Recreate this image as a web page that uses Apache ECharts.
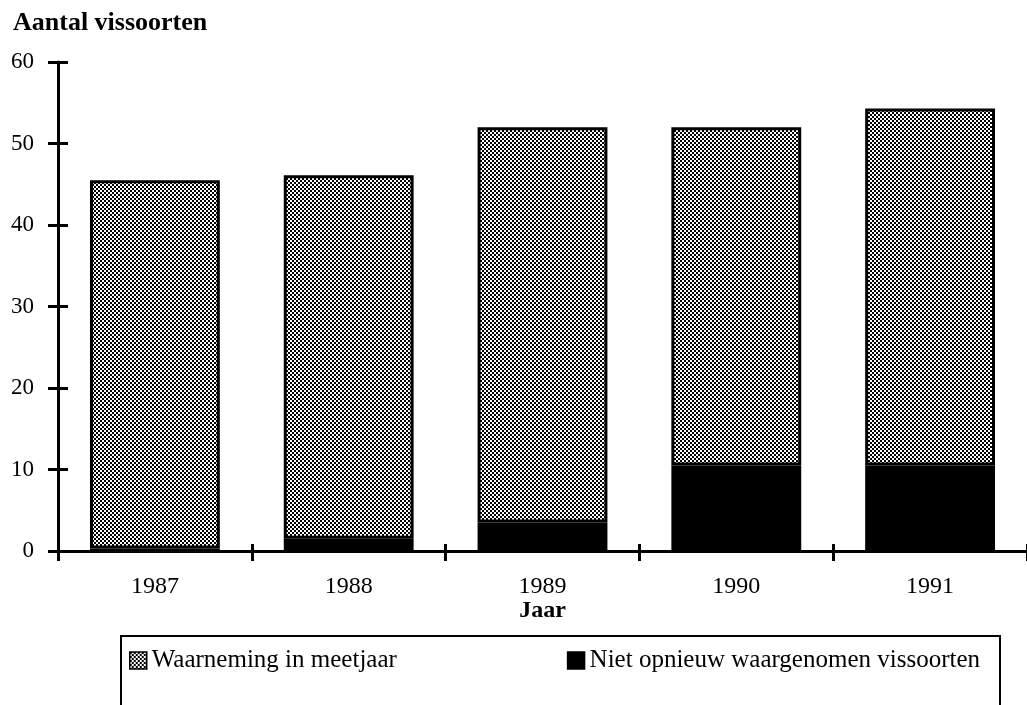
<!DOCTYPE html>
<html>
<head>
<meta charset="utf-8">
<script src="https://cdn.jsdelivr.net/npm/echarts@6/dist/echarts.min.js"></script>
<style>
    html, body { margin: 0; padding: 0; background: #fff; }
    #chart { width: 1027px; height: 705px; }
</style>
</head>
<body>
<div id="chart"></div>
<script>
'use strict';

// values
var years = ['1987', '1988', '1989', '1990', '1991'];
var waarneming = [45.2, 44.6, 48.5, 41.5, 43.8];    // grey part
var nietOpnieuw = [0.3, 1.5, 3.5, 10.5, 10.5];      // black part
var yMin = 0, yMax = 60, yStep = 10;

(function (echarts) {

    var serif = '"Liberation Serif", "Times New Roman", serif';

    // checkered raster like the printed grey
    function checker() {
        var c = document.createElement('canvas');
        c.width = 4; c.height = 4;
        var ctx = c.getContext('2d');
        ctx.fillStyle = '#fff';
        ctx.fillRect(0, 0, 4, 4);
        ctx.fillStyle = '#000';
        ctx.fillRect(0, 0, 2, 2);
        ctx.fillRect(2, 2, 2, 2);
        return c;
    }

    var pattern = { image: checker(), repeat: 'repeat' };

    var catAxis = {
        type: 'category',
        data: years,
        position: 'bottom'
    };

    var valAxis = {
        type: 'value',
        min: yMin,
        max: yMax,
        interval: yStep,
        position: 'left',
        splitLine: { show: false }
    };

    var chart = echarts.init(document.getElementById('chart'));
    chart.setOption({
        animation: false,
        backgroundColor: '#fff',
        textStyle: { fontFamily: serif, color: '#000' },
        title: {
            text: 'Aantal vissoorten',
            left: 8,
            top: 5,
            textStyle: { fontFamily: serif, fontWeight: 'bold', fontSize: 26, color: '#000' }
        },
        grid: { left: 58, right: -6, top: 62, bottom: 154 },
        legend: {
            data: ['Waarneming in meetjaar', 'Niet opnieuw waargenomen vissoorten'],
            icon: 'rect',
            left: 121,
            top: 636,
            orient: 'horizontal',
            itemWidth: 17,
            itemHeight: 17,
            itemGap: 170,
            padding: [12, 20, 40, 8],
            borderColor: '#000',
            borderWidth: 2,
            itemStyle: { borderColor: '#000', borderWidth: 1.5 },
            textStyle: { fontFamily: serif, fontSize: 25, color: '#000' }
        },
        xAxis: [
            Object.assign({}, catAxis, {
                name: 'Jaar',
                nameLocation: 'middle',
                nameGap: 48,
                nameMoveOverlap: false,
                nameTextStyle: { fontFamily: serif, fontWeight: 'bold', fontSize: 24, color: '#000' },
                axisLine: { lineStyle: { color: '#000', width: 3 } },
                axisTick: { show: true, length: 10, lineStyle: { color: '#000', width: 3 } },
                axisLabel: { margin: 24, fontFamily: serif, fontSize: 24, color: '#000' }
            }),
            // inner half of the crossing ticks
            Object.assign({}, catAxis, {
                axisLine: { show: false },
                axisTick: { show: true, inside: true, length: 7, lineStyle: { color: '#000', width: 3 } },
                axisLabel: { show: false }
            })
        ],
        yAxis: [
            Object.assign({}, valAxis, {
                axisLine: { show: true, lineStyle: { color: '#000', width: 3 } },
                axisTick: { show: true, length: 10, lineStyle: { color: '#000', width: 3 } },
                axisLabel: { margin: 24, fontFamily: serif, fontSize: 23, color: '#000' }
            }),
            Object.assign({}, valAxis, {
                axisLine: { show: false },
                axisTick: { show: true, inside: true, length: 10, lineStyle: { color: '#000', width: 3 } },
                axisLabel: { show: false }
            })
        ],
        series: [
            {
                name: 'Niet opnieuw waargenomen vissoorten',
                type: 'bar',
                stack: 'soorten',
                barWidth: '67%',
                data: nietOpnieuw,
                itemStyle: { color: '#000', borderColor: '#000', borderWidth: 0 }
            },
            {
                name: 'Waarneming in meetjaar',
                type: 'bar',
                stack: 'soorten',
                barWidth: '67%',
                data: waarneming,
                itemStyle: { color: pattern, borderColor: '#000', borderWidth: 3 }
            }
        ]
    });

})(echarts);
</script>
</body>
</html>
